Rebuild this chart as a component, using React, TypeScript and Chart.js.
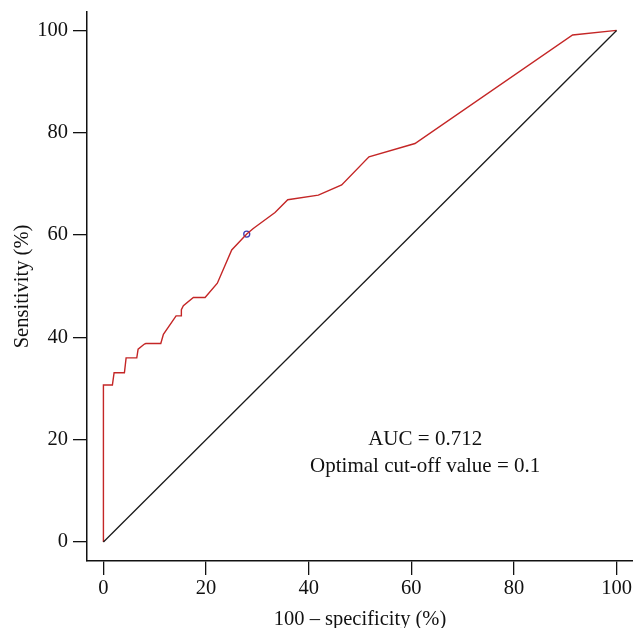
import React, { useEffect, useRef } from "react";
import { Chart, registerables } from "chart.js";

Chart.register(...registerables);

// ROC curve: 100 - specificity (%) vs sensitivity (%)
const fprValues = [0, 0, 1.75, 2.08, 4.09, 4.42, 6.5, 6.76, 7.99, 8.26, 11.18, 11.69, 14.16, 15.19, 15.19, 15.58, 17.53, 19.81, 22.2, 25.0, 27.93, 29.2, 33.44, 35.92, 41.88, 46.43, 51.75, 60.71, 91.43, 100];
const tprValues = [0, 30.7, 30.7, 33.1, 33.1, 36.0, 36.0, 37.7, 38.7, 38.8, 38.8, 40.6, 44.2, 44.2, 45.4, 46.2, 47.8, 47.8, 50.6, 57.1, 60.2, 61.3, 64.4, 66.9, 67.8, 69.8, 75.3, 77.9, 99.1, 100];
const diagonalX = [0, 100];
const diagonalY = [0, 100];
const cutoffPoint = { x: 27.93, y: 60.2 };
const xTicks = [0, 20, 40, 60, 80, 100];
const yTicks = [0, 20, 40, 60, 80, 100];
const annotationLines = ["AUC = 0.712", "Optimal cut-off value = 0.1"];
const annotationX = 62.7;
const annotationY = [20.0, 14.7];

const FONT = "'Liberation Serif', 'DejaVu Serif', serif";
const FONT_SIZE = 20.5;

const annotationPlugin = {
  id: "rocAnnotation",
  afterDatasetsDraw(chart: any) {
    const { ctx, scales } = chart;
    ctx.save();
    ctx.font = `21px ${FONT}`;
    ctx.fillStyle = "#111";
    ctx.textAlign = "center";
    ctx.textBaseline = "middle";
    annotationLines.forEach((t, i) => {
      ctx.fillText(t, scales.x.getPixelForValue(annotationX), scales.y.getPixelForValue(annotationY[i]));
    });
    ctx.restore();
  },
};

const zeroPadding = (s: any) => {
  s.paddingLeft = 0;
  s.paddingRight = 0;
  s.paddingTop = 0;
  s.paddingBottom = 0;
};

export default function App() {
  const ref = useRef<HTMLCanvasElement | null>(null);
  useEffect(() => {
    document.body.style.margin = "0";
    const canvas = ref.current!;
    const axisCommon = {
      type: "linear" as const,
      grid: {
        display: true,
        drawOnChartArea: false,
        drawTicks: true,
        tickLength: 14,
        color: "#111",
        lineWidth: 1.3,
      },
      border: { display: true, color: "#111", width: 1.5 },
    };
    const chart = new Chart(canvas, {
      type: "scatter",
      data: {
        datasets: [
          {
            data: diagonalX.map((x, i) => ({ x, y: diagonalY[i] })),
            showLine: true,
            borderColor: "#1a1a1a",
            borderWidth: 1.3,
            pointRadius: 0,
            fill: false,
          },
          {
            data: fprValues.map((x, i) => ({ x, y: tprValues[i] })),
            showLine: true,
            borderColor: "#c42626",
            borderWidth: 1.4,
            pointRadius: 0,
            tension: 0,
            fill: false,
          },
          {
            data: [cutoffPoint],
            showLine: false,
            pointRadius: 3,
            pointBorderWidth: 1.3,
            pointBorderColor: "#3c3cb4",
            pointBackgroundColor: "rgba(255,255,255,0)",
          },
        ],
      },
      options: {
        animation: false,
        responsive: false,
        devicePixelRatio: 1,
        layout: { autoPadding: false, padding: { top: 12, left: 0, right: 0, bottom: 0 } },
        plugins: { legend: { display: false }, tooltip: { enabled: false } },
        scales: {
          x: {
            ...axisCommon,
            min: -3.2,
            max: 103.2,
            afterBuildTicks: (s: any) => {
              s.ticks = xTicks.map((v) => ({ value: v }));
            },
            afterFit: (s: any) => {
              s.height = 67;
              zeroPadding(s);
            },
            ticks: {
              color: "#111",
              padding: 0,
              maxRotation: 0,
              autoSkip: false,
              font: { family: FONT, size: FONT_SIZE, lineHeight: 1.3 },
            },
            title: {
              display: true,
              text: "100 – specificity (%)",
              color: "#111",
              font: { family: FONT, size: FONT_SIZE, lineHeight: 0.85 },
              padding: { top: 0, bottom: 0 },
            },
          },
          y: {
            ...axisCommon,
            min: -3.7,
            max: 103.6,
            afterBuildTicks: (s: any) => {
              s.ticks = yTicks.map((v) => ({ value: v }));
            },
            afterFit: (s: any) => {
              s.width = 87;
              zeroPadding(s);
            },
            ticks: {
              color: "#111",
              padding: 5,
              autoSkip: false,
              font: { family: FONT, size: FONT_SIZE, lineHeight: 0.6 },
            },
            title: {
              display: true,
              text: "Sensitivity (%)",
              color: "#111",
              font: { family: FONT, size: FONT_SIZE, lineHeight: 1 },
              padding: { top: 12.5, bottom: 0 },
            },
          },
        },
      },
      plugins: [annotationPlugin],
    });
    return () => chart.destroy();
  }, []);
  return (
    <canvas ref={ref} width={633} height={628} style={{ display: "block", width: 633, height: 628 }} />
  );
}
